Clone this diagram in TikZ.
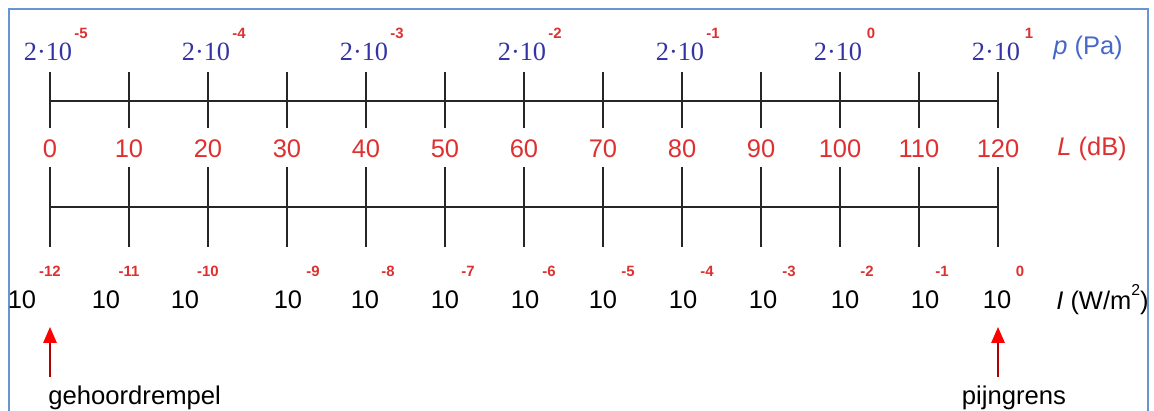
\documentclass[tikz,border=0pt]{standalone}
\usepackage{fontspec}
\setmainfont{Liberation Sans}
\newfontfamily\serifnum{Liberation Serif}
\usepackage{tikz}
\usetikzlibrary{arrows.meta, positioning}
\definecolor{dbred}{RGB}{222,48,48}
\definecolor{pablue}{RGB}{52,52,165}
\definecolor{unitblue}{RGB}{72,104,200}
\definecolor{frameblue}{RGB}{100,150,210}

\begin{document}
\begin{tikzpicture}[x=0.02cm, y=-0.02cm,
  axisline/.style={line width=1.1pt, black!85},
  tickline/.style={line width=1.1pt, black!85},
  pval/.style={text=pablue, font=\serifnum\fontsize{15}{17}\selectfont, inner sep=0pt},
  expo/.style={text=dbred, font=\fontsize{8.5}{10}\selectfont\bfseries, inner sep=0pt},
  dbval/.style={text=dbred, font=\fontsize{14.5}{17}\selectfont, inner sep=0pt},
  ival/.style={text=black, font=\fontsize{14.5}{17}\selectfont, inner sep=0pt},
  unit/.style={font=\fontsize{14.5}{17}\selectfont, inner sep=0pt, anchor=west},
  note/.style={font=\fontsize{14.6}{17}\selectfont, inner sep=0pt},
  pointer/.style={draw=red!70!black, line width=0.8pt, -{Triangle[length=0.32cm, width=0.27cm, red]}}
]
\useasboundingbox (0,0) rectangle (1154,411);

% frame
\draw[frameblue, line width=1.2pt] (9,411) -- (9,9) -- (1148,9) -- (1148,411);

% the two scales
\draw[axisline] (50,101) -- (998,101);
\draw[axisline] (50,207) -- (998,207);

\foreach \n in {0,...,12} {
  \draw[tickline] ({50+79*\n},72) -- ({50+79*\n},128);
  \draw[tickline] ({50+79*\n},167) -- ({50+79*\n},247);
  \node[dbval] (db\n) at ({50+79*\n},149) {\the\numexpr10*\n\relax};
}

% pressure
\foreach \n/\e in {0/-5,2/-4,4/-3,6/-2,8/-1,10/0,12/1} {
  \node[pval] (pv\n) at ({48+79*\n},52) {2·10};
  \node[expo] (pexp\n) at ({81+79*\n},33) {\e};
}

% intensity
\foreach \n/\tx/\ex/\e in {0/22/50/-12, 1/106/129/-11, 2/185/208/-10, 3/288/313/-9,
    4/365/388/-8, 5/445/468/-7, 6/525/549/-6, 7/603/628/-5, 8/683/707/-4,
    9/763/789/-3, 10/845/867/-2, 11/925/942/-1, 12/997/1020/0} {
  \node[ival] (iv\n) at (\tx,300) {10};
  \node[expo] (iexp\n) at (\ex,271) {\e};
}

\node[unit, text=unitblue] (punit) at (1053,48) {\textit{p} (Pa)};
\node[unit, text=dbred] (lunit) at (1057,149) {\textit{L} (dB)};
\node[unit] (iunit) at (1056,300) {\textit{I} (W/m\raisebox{0.55em}{\fontsize{9}{10}\selectfont 2})};

% thresholds
\node[note, anchor=west] (ghr) at (48,398) {gehoordrempel};
\node[note] (pgr) at (1014,398) {pijngrens};
\draw[pointer] (50,377) -- (50,327);
\draw[pointer] (998,377) -- (998,327);

\end{tikzpicture}
\end{document}
